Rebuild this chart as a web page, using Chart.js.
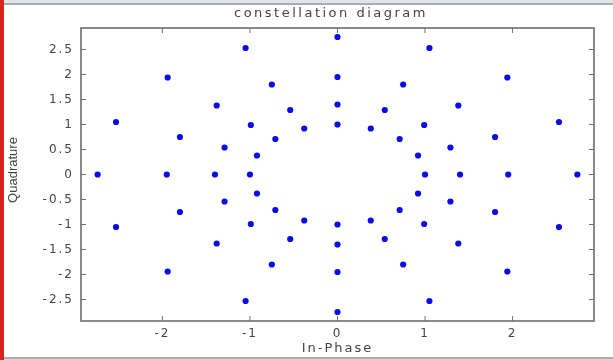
<!DOCTYPE html>
<html>
<head>
<meta charset="utf-8">
<script src="https://cdn.jsdelivr.net/npm/chart.js@4.4.1/dist/chart.umd.min.js"></script>
<style>
  html, body { margin: 0; padding: 0; background: #fff; }
  #wrap { position: relative; width: 613px; height: 360px; overflow: hidden; background: #fff; }
  #plot { position: absolute; left: 0; top: 0; }
  .bar { position: absolute; }
</style>
</head>
<body>
<div id="wrap">
  <canvas id="plot" width="613" height="360"></canvas>
  <!-- page frame around the screenshot -->
  <div class="bar" style="left:0;top:0;width:613px;height:3px;background:#dfe5ec"></div>
  <div class="bar" style="left:0;top:3px;width:613px;height:2px;background:#a9abad"></div>
  <div class="bar" style="left:0;top:357px;width:613px;height:2px;background:#aaaaaa"></div>
  <div class="bar" style="left:0;top:359px;width:613px;height:1px;background:#d6d6d6"></div>
  <div class="bar" style="left:0;top:0;width:4px;height:360px;background:#d3261c"></div>
</div>
<script>
// Points: four rings, 16 symbols each (in-phase / quadrature)
const ring1I = [1.00, 0.92, 0.71, 0.38, 0.00, -0.38, -0.71, -0.92, -1.00, -0.92, -0.71, -0.38, 0.00, 0.38, 0.71, 0.92];
const ring1Q = [0.00, 0.38, 0.71, 0.92, 1.00, 0.92, 0.71, 0.38, 0.00, -0.38, -0.71, -0.92, -1.00, -0.92, -0.71, -0.38];

const ring2I = [1.40, 1.29, 0.99, 0.54, 0.00, -0.54, -0.99, -1.29, -1.40, -1.29, -0.99, -0.54, 0.00, 0.54, 0.99, 1.29];
const ring2Q = [0.00, 0.54, 0.99, 1.29, 1.40, 1.29, 0.99, 0.54, 0.00, -0.54, -0.99, -1.29, -1.40, -1.29, -0.99, -0.54];

const ring3I = [1.95, 1.80, 1.38, 0.75, 0.00, -0.75, -1.38, -1.80, -1.95, -1.80, -1.38, -0.75, 0.00, 0.75, 1.38, 1.80];
const ring3Q = [0.00, 0.75, 1.38, 1.80, 1.95, 1.80, 1.38, 0.75, 0.00, -0.75, -1.38, -1.80, -1.95, -1.80, -1.38, -0.75];

const ring4I = [2.74, 2.53, 1.94, 1.05, 0.00, -1.05, -1.94, -2.53, -2.74, -2.53, -1.94, -1.05, 0.00, 1.05, 1.94, 2.53];
const ring4Q = [0.00, 1.05, 1.94, 2.53, 2.75, 2.53, 1.94, 1.05, 0.00, -1.05, -1.94, -2.53, -2.75, -2.53, -1.94, -1.05];

// Axis ticks and limits
const xTicks = [-2, -1, 0, 1, 2];
const yTicks = [-2.5, -2, -1.5, -1, -0.5, 0, 0.5, 1, 1.5, 2, 2.5];
const axisMin = -2.93;
const axisMax = 2.93;

// Texts
const chartTitle = 'constellation diagram';
const xTitle = 'In-Phase';
const yTitle = 'Quadrature';

const textColor = '#444444';
const boxColor = '#6e6e6e';
const dotColor = '#0b0be6';
const wideFont = '"DejaVu Sans", Verdana, sans-serif';

// Joins the two lists of a ring into {x, y} points
function toPoints(iValues, qValues) {
  return iValues.map((value, index) => ({ x: value, y: qValues[index] }));
}

// Box around the plot with inward tick marks on all four sides (MATLAB look)
const matlabFrame = {
  id: 'matlabFrame',
  beforeDraw(chart) {
    // the screenshot text is wide, a little spacing helps
    chart.ctx.letterSpacing = '2px';
  },
  beforeDatasetsDraw(chart) {
    const { ctx, chartArea, scales } = chart;
    const { left, right, top, bottom } = chartArea;
    const tickLen = 5;
    ctx.save();
    ctx.strokeStyle = boxColor;
    ctx.lineWidth = 1;
    ctx.beginPath();
    for (const tick of scales.x.ticks) {
      const px = scales.x.getPixelForValue(tick.value);
      ctx.moveTo(px, bottom);
      ctx.lineTo(px, bottom - tickLen);
      ctx.moveTo(px, top);
      ctx.lineTo(px, top + tickLen);
    }
    for (const tick of scales.y.ticks) {
      const py = scales.y.getPixelForValue(tick.value);
      ctx.moveTo(left, py);
      ctx.lineTo(left + tickLen, py);
      ctx.moveTo(right, py);
      ctx.lineTo(right - tickLen, py);
    }
    ctx.stroke();
    ctx.lineWidth = 1.6;
    ctx.strokeRect(left, top, right - left, bottom - top);
    ctx.restore();
  },
  afterDraw(chart) {
    const { ctx } = chart;
    ctx.save();
    ctx.fillStyle = textColor;
    ctx.textAlign = 'center';
    ctx.textBaseline = 'middle';
    // Title above the box
    ctx.letterSpacing = '2.5px';
    ctx.font = `13px ${wideFont}`;
    ctx.fillText(chartTitle, 331, 14);
    // Rotated y label, plain spacing
    ctx.letterSpacing = '0px';
    ctx.font = '13px "Liberation Sans", Arial, sans-serif';
    ctx.translate(13.5, 170);
    ctx.rotate(-Math.PI / 2);
    ctx.fillText(yTitle, 0, 0);
    ctx.restore();
  },
};

const tickFont = { family: wideFont, size: 12 };

new Chart(document.getElementById('plot'), {
  type: 'scatter',
  data: {
    datasets: [
      { data: toPoints(ring1I, ring1Q) },
      { data: toPoints(ring2I, ring2Q) },
      { data: toPoints(ring3I, ring3Q) },
      { data: toPoints(ring4I, ring4Q) },
    ],
  },
  options: {
    responsive: false,
    animation: false,
    devicePixelRatio: 1,
    layout: { padding: { top: 28, right: 19, bottom: 0, left: 0 } },
    elements: {
      point: {
        radius: 3.1,
        backgroundColor: dotColor,
        borderWidth: 0,
      },
    },
    plugins: {
      legend: { display: false },
      tooltip: { enabled: false },
      title: { display: false },
    },
    scales: {
      x: {
        type: 'linear',
        min: axisMin,
        max: axisMax,
        afterBuildTicks: (scale) => {
          scale.ticks = xTicks.map((value) => ({ value }));
        },
        afterFit: (scale) => {
          scale.height = 39;
        },
        grid: { display: false, drawTicks: false },
        border: { display: false },
        ticks: {
          padding: 6,
          color: textColor,
          font: tickFont,
          maxRotation: 0,
          autoSkip: false,
          callback: (value) => String(value),
        },
        title: {
          display: true,
          text: xTitle,
          color: textColor,
          font: { family: wideFont, size: 13 },
          padding: { top: 0, bottom: 4 },
        },
      },
      y: {
        type: 'linear',
        min: axisMin,
        max: axisMax,
        afterBuildTicks: (scale) => {
          scale.ticks = yTicks.map((value) => ({ value }));
        },
        afterFit: (scale) => {
          scale.width = 81;
        },
        grid: { display: false, drawTicks: false },
        border: { display: false },
        ticks: {
          padding: 7,
          color: textColor,
          font: tickFont,
          autoSkip: false,
          callback: (value) => String(value),
        },
      },
    },
  },
  plugins: [matlabFrame],
});
</script>
</body>
</html>
